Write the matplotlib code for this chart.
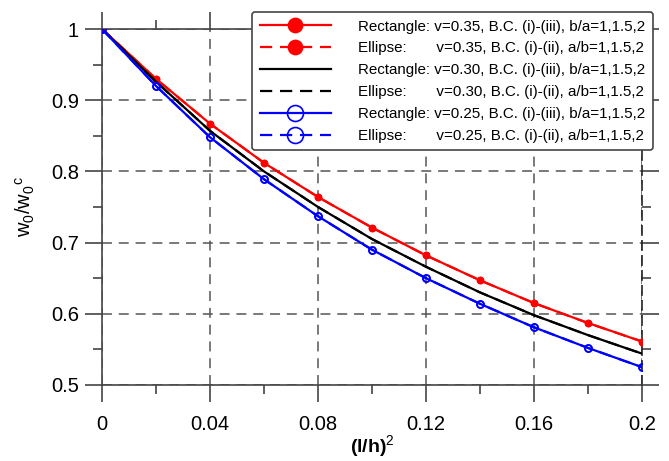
import numpy as np
import matplotlib
matplotlib.use("Agg")
import matplotlib.pyplot as plt
from matplotlib.ticker import MultipleLocator, FixedFormatter, FixedLocator

plt.rcParams['font.family'] = ['Liberation Sans', 'DejaVu Sans']
plt.rcParams['mathtext.fontset'] = 'custom'
plt.rcParams['mathtext.rm'] = 'Liberation Sans'

# (l/h)^2 values
x = [0, 0.02, 0.04, 0.06, 0.08, 0.10, 0.12, 0.14, 0.16, 0.18, 0.20]

# w0/w0c for each Poisson ratio (rectangle and ellipse curves coincide)
w_035 = [1.0, 0.930, 0.867, 0.812, 0.764, 0.721, 0.682, 0.647, 0.615, 0.587, 0.561]
w_030 = [1.0, 0.926, 0.857, 0.800, 0.750, 0.705, 0.666, 0.630, 0.598, 0.570, 0.544]
w_025 = [1.0, 0.920, 0.848, 0.789, 0.737, 0.690, 0.650, 0.614, 0.581, 0.552, 0.525]

labels = [
    "Rectangle: v=0.35, B.C. (i)-(iii), b/a=1,1.5,2",
    "Ellipse:       v=0.35, B.C. (i)-(ii), a/b=1,1.5,2",
    "Rectangle: v=0.30, B.C. (i)-(iii), b/a=1,1.5,2",
    "Ellipse:       v=0.30, B.C. (i)-(ii), a/b=1,1.5,2",
    "Rectangle: v=0.25, B.C. (i)-(iii), b/a=1,1.5,2",
    "Ellipse:       v=0.25, B.C. (i)-(ii), a/b=1,1.5,2",
]

xticks = [0, 0.04, 0.08, 0.12, 0.16, 0.2]
xticklabels = ["0", "0.04", "0.08", "0.12", "0.16", "0.2"]
yticks = [0.5, 0.6, 0.7, 0.8, 0.9, 1.0]
yticklabels = ["0.5", "0.6", "0.7", "0.8", "0.9", "1"]

fig = plt.figure(figsize=(6.69, 4.61), dpi=100)
ax = fig.add_axes([0.1525, 0.165, 0.8071, 0.772])

dash = (0, (5.5, 3.5))
ax.plot(x, w_035, color='red', lw=1.6, marker='o', ms=4.5, label=labels[0], zorder=3)
ax.plot(x, w_035, color='red', lw=1.6, ls=dash, marker='o', ms=4.5, label=labels[1], zorder=3)
ax.plot(x, w_030, color='black', lw=1.6, label=labels[2], zorder=3)
ax.plot(x, w_030, color='black', lw=1.6, ls=dash, label=labels[3], zorder=3)
ax.plot(x, w_025, color='blue', lw=1.6, marker='o', ms=5, mfc='none', mew=1.2,
        label=labels[4], zorder=3)
ax.plot(x, w_025, color='blue', lw=1.6, ls=dash, marker='o', ms=5, mfc='none', mew=1.2,
        label=labels[5], zorder=3)

ax.set_xlim(0, 0.2)
ax.set_ylim(0.5, 1.0)
ax.xaxis.set_major_locator(FixedLocator(xticks))
ax.xaxis.set_major_formatter(FixedFormatter(xticklabels))
ax.yaxis.set_major_locator(FixedLocator(yticks))
ax.yaxis.set_major_formatter(FixedFormatter(yticklabels))
ax.xaxis.set_minor_locator(MultipleLocator(0.02))
ax.yaxis.set_minor_locator(MultipleLocator(0.05))

spine_col = '#444444'
ax.tick_params(which='both', direction='out', top=True, right=True,
               color=spine_col, width=1.2, labelsize=14.5)
ax.tick_params(which='major', length=12.5)
ax.tick_params(which='minor', length=6.5)
ax.tick_params(axis='x', which='major', pad=9)
ax.tick_params(axis='y', which='major', pad=4)

for s in ax.spines.values():
    s.set_color(spine_col)
    s.set_linewidth(1.2)
ax.spines['right'].set_color('#222222')
ax.spines['right'].set_linestyle(dash)

ax.grid(True, which='major', color='#555555', ls=(0, (6.5, 4.5)), lw=1.1)

ax.set_xlabel('(l/h)$^2$', fontsize=14, fontweight='bold')
ax.set_ylabel(r'$\mathregular{w_0/w_0{}^c}$', fontsize=14.5)
ax.xaxis.set_label_coords(0.5, -0.135)
ax.yaxis.set_label_coords(-0.12, 0.5)

leg = ax.legend(loc='upper right', bbox_to_anchor=(653 / 669, 1 - 12 / 461),
                bbox_transform=fig.transFigure, borderaxespad=0, fontsize=10.9,
                handlelength=4.7, handletextpad=1.8, labelspacing=0.52,
                borderpad=0.5, markerscale=2.3, fancybox=True, framealpha=1)
leg.get_frame().set_edgecolor('#444444')
leg.get_frame().set_linewidth(1.2)
leg.set_zorder(5)

fig.savefig('out.png', dpi=100)
